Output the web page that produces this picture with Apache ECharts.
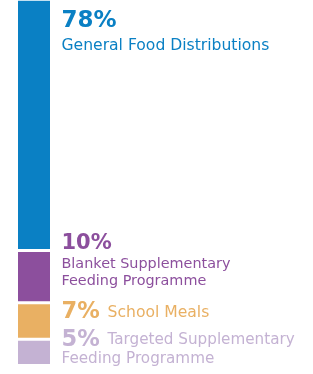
<!DOCTYPE html>
<html>
<head>
<meta charset="utf-8">
<script src="https://cdn.jsdelivr.net/npm/echarts@6/dist/echarts.min.js"></script>
<style>
  html, body { margin: 0; padding: 0; background: #fff; }
  #chart { width: 313px; height: 374px; }
</style>
</head>
<body>
<div id="chart"></div>
<script>
// stacked from the bottom up
const categories = ['Share'];
const programmes = [
  'Targeted Supplementary\nFeeding Programme',
  'School Meals',
  'Blanket Supplementary\nFeeding Programme',
  'General Food Distributions'
];
const shares = [5, 7, 10, 78];
const colors = ['#c4b2d3', '#e9b063', '#8c4f9d', '#0a80c4'];

// how each label sits next to its segment
const labelLayout = [
  { inline: true, dy: -9.5, pctSize: 22.5, pctLine: 21, nameSize: 15.2, nameLine: 17 },
  { inline: true, dy: -0.6, pctSize: 22.5, pctLine: 21, nameSize: 15.6, nameLine: 17 },
  { inline: false, dy: -18.3, pctSize: 21, pctLine: 23, nameSize: 14.4, nameLine: 17.5 },
  { inline: false, dy: 5.4, pctSize: 23, pctLine: 32, nameSize: 15.6, nameLine: 18 }
];

const font = '"DejaVu Sans", Verdana, sans-serif';

const series = shares.map((v, i) => {
  const lay = labelLayout[i];
  const name = programmes[i];
  let text;
  if (lay.inline) {
    const lines = name.split('\n');
    text = '{p|' + v + '% }{n|' + lines[0] + '}' +
      lines.slice(1).map(l => '\n{n|' + l + '}').join('');
  } else {
    text = '{p|' + v + '%}\n' + name.split('\n').map(l => '{n|' + l + '}').join('\n');
  }
  return {
    name: name,
    type: 'bar',
    stack: 'all',
    barWidth: 35,
    clip: true,
    data: [v],
    itemStyle: {
      color: colors[i],
      borderColor: '#fff',
      borderWidth: 1.5
    },
    label: {
      show: true,
      position: [45, lay.dy],
      formatter: text,
      rich: {
        p: {
          fontFamily: font,
          fontWeight: 'bold',
          fontSize: lay.pctSize,
          lineHeight: lay.pctLine,
          color: colors[i]
        },
        n: {
          fontFamily: font,
          fontSize: lay.nameSize,
          lineHeight: lay.nameLine,
          color: colors[i]
        }
      }
    }
  };
});

const option = {
  animation: false,
  grid: {
    left: 16.5,
    top: -2,
    width: 35,
    height: 367.5
  },
  xAxis: {
    type: 'category',
    data: categories,
    show: false
  },
  yAxis: {
    type: 'value',
    min: 0,
    max: 69.9,
    show: false
  },
  series: series
};

const chart = echarts.init(document.getElementById('chart'));
chart.setOption(option);
</script>
</body>
</html>
